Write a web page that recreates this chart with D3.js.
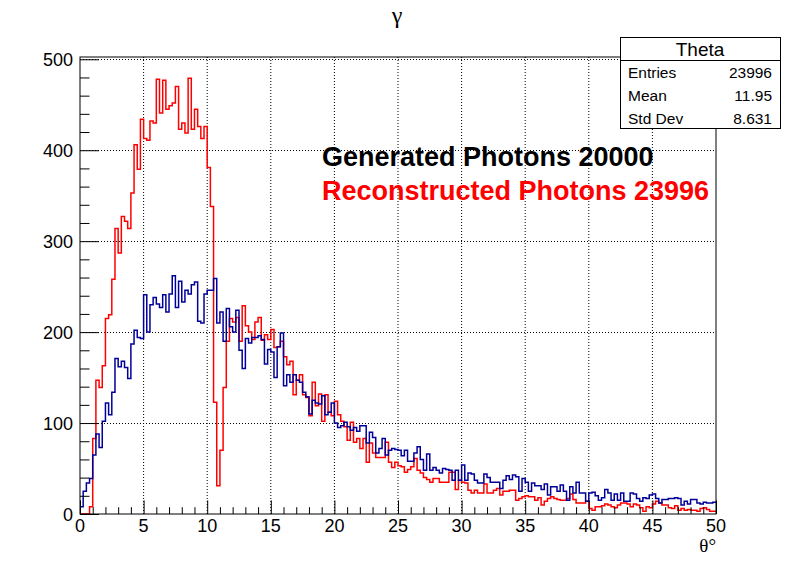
<!DOCTYPE html>
<html><head><meta charset="utf-8">
<script src="https://cdn.jsdelivr.net/npm/d3@7"></script>
<style>body{margin:0;background:#fff}svg{display:block}</style>
</head><body>
<svg id="c" width="796" height="572"></svg>
<script>
const xMin = 0, xMax = 50, nBins = 200;
const xTicks = [0,5,10,15,20,25,30,35,40,45,50];
const yTicks = [0,100,200,300,400,500];
const generated = [8,25,34,39,65,88,73,102,122,109,134,171,162,168,161,149,187,202,194,193,
241,200,230,238,231,227,241,222,242,262,227,256,233,246,242,252,255,212,210,242,
246,246,259,210,222,190,226,206,200,224,180,160,193,188,194,194,196,192,165,181,
178,150,184,199,141,153,145,153,147,145,134,129,110,125,122,121,130,109,112,122,
100,95,97,101,96,92,95,91,97,97,78,90,84,67,72,83,65,70,72,71,
70,64,70,58,58,67,74,60,48,66,48,51,48,45,50,49,48,37,48,37,
54,37,45,44,37,34,34,44,40,35,35,35,28,37,42,38,43,41,25,39,
35,25,34,31,31,27,33,21,30,30,25,32,25,15,30,23,35,23,23,14,
23,24,20,15,18,27,23,15,22,15,23,14,14,23,22,17,14,18,17,21,
22,17,12,16,16,17,17,18,17,10,14,11,16,16,12,11,13,12,12,13];
const reconstructed = [0,0,0,8,83,147,139,163,215,219,258,314,287,327,322,314,353,406,379,434,
413,411,432,430,478,441,477,445,449,452,470,423,430,419,479,423,445,426,413,426,
381,338,123,31,70,139,190,215,211,216,190,229,207,200,192,211,216,191,197,192,
203,183,184,190,173,164,168,131,147,153,131,128,108,145,119,132,102,131,112,108,
124,109,102,96,81,101,79,83,72,83,57,78,67,62,62,62,79,57,51,57,
53,52,46,49,52,61,48,45,40,38,35,39,39,35,35,35,46,46,27,37,
35,34,26,23,26,23,23,33,23,23,26,28,21,25,25,26,26,15,17,19,
20,19,19,15,18,10,14,17,19,17,16,15,15,17,22,16,12,12,12,14,
6,4,8,8,9,11,10,8,7,10,12,12,11,8,11,10,7,3,8,7,
11,14,12,10,10,7,6,9,4,6,4,5,4,4,3,6,7,5,3,3];
const statsLabels = ["Entries","Mean","Std Dev"];
const statsValues = ["23996","11.95","8.631"];
const legendLines = [{text:"Generated Photons 20000", color:"#000000"},
                     {text:"Reconstructed Photons 23996", color:"#ff0000"}];

const svg = d3.select("#c");
const L = 80, R = 716, T = 57, B = 514;
const x = d3.scaleLinear().domain([xMin, xMax]).range([L, R]);
const y = d3.scaleLinear().domain([0, 502.5]).range([B, T]);
const font = "'Liberation Sans', Arial, Helvetica, sans-serif";

svg.append("rect").attr("width",796).attr("height",572).attr("fill","#fff");

// grid
const g = svg.append("g");
xTicks.filter(t => t > xMin && t < xMax).forEach(t => {
  g.append("line").attr("x1",x(t)).attr("x2",x(t)).attr("y1",B).attr("y2",T)
   .attr("stroke","#000").attr("stroke-width",1).attr("stroke-dasharray","1,2");
});
yTicks.filter(t => t > 0).forEach(t => {
  g.append("line").attr("x1",L).attr("x2",R).attr("y1",Math.round(y(t))+0.5).attr("y2",Math.round(y(t))+0.5)
   .attr("stroke","#000").attr("stroke-width",1).attr("stroke-dasharray","1,2");
});

// clip
svg.append("clipPath").attr("id","fr").append("rect").attr("x",L).attr("y",T).attr("width",R-L).attr("height",B-T);

const bw = (xMax - xMin) / nBins;
function pts(arr){
  const p = [[xMin, 0]];
  arr.forEach((v,i) => p.push([xMin + i*bw, v]));
  p.push([xMax, arr[arr.length-1]]);
  return p;
}
const line = d3.line().x(d => x(d[0])).y(d => y(d[1])).curve(d3.curveStepAfter);
const hg = svg.append("g").attr("clip-path","url(#fr)");
hg.append("path").attr("d", line(pts(reconstructed))).attr("fill","none").attr("stroke","#ff0000").attr("stroke-width",1.5);
hg.append("path").attr("d", line(pts(generated))).attr("fill","none").attr("stroke","#000099").attr("stroke-width",1.5);

// axes
const xAxis = d3.axisBottom(x).tickValues(d3.range(xMin, xMax+0.001, 1)).tickSize(0).tickFormat("");
const yAxis = d3.axisLeft(y).tickValues(d3.range(0, 501, 20)).tickSize(0).tickFormat("");
const xa = svg.append("g").attr("transform",`translate(0,${B})`).call(xAxis);
const ya = svg.append("g").attr("transform",`translate(${L},0)`).call(yAxis);
xa.select(".domain").remove(); ya.select(".domain").remove();
xa.selectAll(".tick line").attr("y2", d => (d % 5 === 0) ? -13.6 : -6.8).attr("stroke","#000");
ya.selectAll(".tick line").attr("x2", d => (d % 100 === 0) ? 19 : 9.5).attr("stroke","#000");

// frame
svg.append("rect").attr("x",L).attr("y",T).attr("width",R-L).attr("height",B-T)
  .attr("fill","none").attr("stroke","#000").attr("stroke-width",1);

// tick labels
xTicks.forEach(t => {
  svg.append("text").attr("x",x(t)).attr("y",B+18).attr("text-anchor","middle")
    .attr("font-family",font).attr("font-size",18).text(t);
});
yTicks.forEach(t => {
  svg.append("text").attr("x",L-7).attr("y",y(t)+6.5).attr("text-anchor","end")
    .attr("font-family",font).attr("font-size",18).text(t);
});

// axis title
svg.append("text").attr("x",R).attr("y",552).attr("text-anchor","end")
  .attr("font-family","'Liberation Serif', 'Times New Roman', serif").attr("font-size",19).text("θ°");

// title
svg.append("text").attr("x",397).attr("y",23).attr("text-anchor","middle")
  .attr("font-family","'Liberation Serif', 'Times New Roman', serif").attr("font-size",24).text("γ");

// legend text
legendLines.forEach((d,i) => {
  svg.append("text").attr("x",322).attr("y",166 + i*34).attr("font-family",font)
    .attr("font-weight","bold").attr("font-size",27).attr("fill",d.color).text(d.text);
});

// stats box
const sb = svg.append("g");
sb.append("rect").attr("x",620.5).attr("y",37.5).attr("width",160).attr("height",91)
  .attr("fill","#fff").attr("stroke","#000").attr("stroke-width",1);
sb.append("line").attr("x1",620.5).attr("x2",780.5).attr("y1",60.5).attr("y2",60.5).attr("stroke","#000");
sb.append("text").attr("x",700).attr("y",56).attr("text-anchor","middle").attr("font-family",font)
  .attr("font-size",19).text("Theta");
statsLabels.forEach((s,i) => {
  sb.append("text").attr("x",628).attr("y",78 + i*23).attr("font-family",font).attr("font-size",15.5).text(s);
  sb.append("text").attr("x",772).attr("y",78 + i*23).attr("text-anchor","end").attr("font-family",font).attr("font-size",15.5).text(statsValues[i]);
});
</script>
</body></html>
